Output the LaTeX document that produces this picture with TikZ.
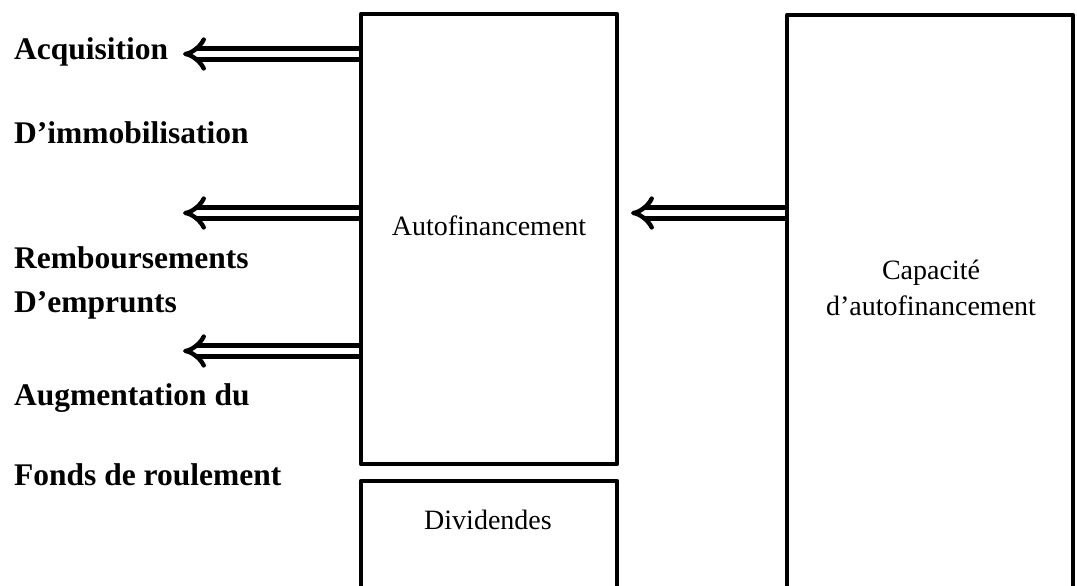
\documentclass[tikz,border=0pt]{standalone}
\usepackage{fontspec}
\setmainfont{Liberation Serif}
\usetikzlibrary{arrows.meta}
\begin{document}
\begin{tikzpicture}[x=1pt,y=-1pt,
  box/.style={draw,line width=4.8pt,line join=round,inner sep=0pt},
  dbl/.style={line width=4.4pt,double distance=6.5pt,line join=round,-{Implies[]}},
  lbl/.style={font=\fontsize{31.5}{44}\selectfont\bfseries,anchor=base west,inner sep=0pt},
  txt/.style={font=\fontsize{28}{36}\selectfont,align=center,inner sep=0pt}]
  \useasboundingbox (0,0) rectangle (1077,586);
  \clip (0,0) rectangle (1077,586);
  % boxes
  \node[box,minimum width=256pt,minimum height=450pt] (auto) at (489,239) {};
  \node[box,minimum width=256pt,minimum height=140pt] (div) at (489,551) {};
  \node[box,minimum width=286pt,minimum height=600pt] (caf) at (930,315) {};
  % box texts
  \node[txt] (autot) at (489,226) {Autofinancement};
  \node[txt] (divt) at (488,520) {Dividendes};
  \node[txt] (caft) at (931,288) {Capacité\\d’autofinancement};
  % left labels
  \node[lbl] (l1) at (14,60) {Acquisition};
  \node[lbl] (l2) at (14,143) {D’immobilisation};
  \node[lbl] (l3) at (14,268) {Remboursements};
  \node[lbl] (l4) at (14,312) {D’emprunts};
  \node[lbl] (l5) at (14,405) {Augmentation du};
  \node[lbl] (l6) at (14,485) {Fonds de roulement};
  % arrow ends
  \coordinate (e1) at (183,54);
  \coordinate (e2) at (183,213);
  \coordinate (e3) at (183,351);
  \coordinate (e4) at (631,213);
  % arrows
  \draw[dbl] (auto.west |- e1) -- (e1);
  \draw[dbl] (auto.west |- e2) -- (e2);
  \draw[dbl] (auto.west |- e3) -- (e3);
  \draw[dbl] (caf.west |- e4) -- (e4);
\end{tikzpicture}
\end{document}
